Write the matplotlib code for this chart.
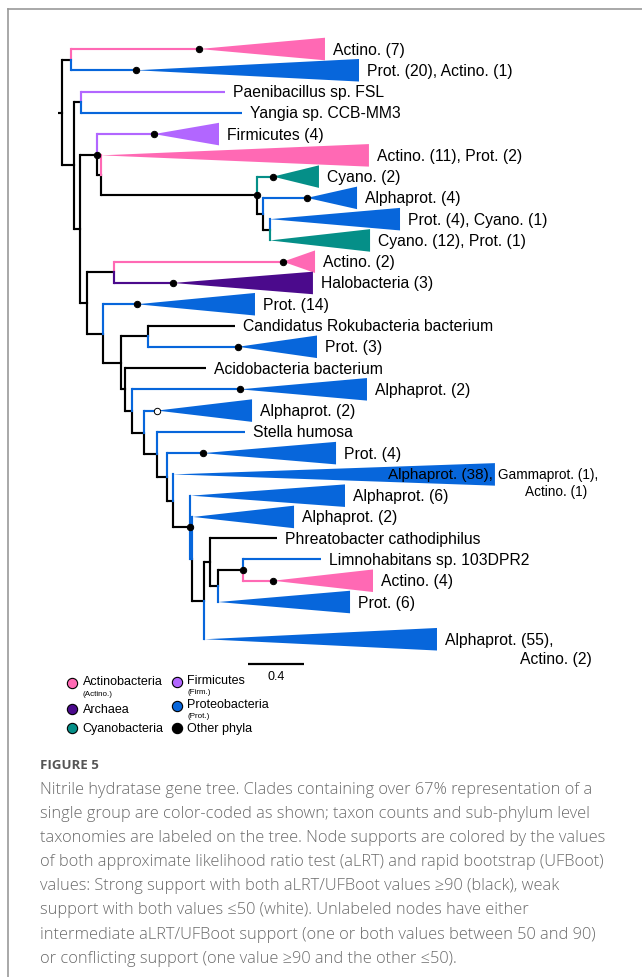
import matplotlib
matplotlib.use('Agg')
import matplotlib.pyplot as plt
from matplotlib.patches import Polygon

plt.rcParams['font.family'] = ['Liberation Sans', 'DejaVu Sans']

# phylum colours
group_names = ['actino', 'archaea', 'cyano', 'firm', 'prot', 'other']
group_colors = ['#ff69b4', '#4b0a8c', '#058f88', '#b266ff', '#0766db', '#000000']

# internal nodes: id, parent, depth (subst./site), branch group, support
node_ids = ['R', 'A', 'B', 'C', 'D', 'E', 'F', 'G', 'H', 'I', 'J', 'K', 'M', 'N',
            'O', 'P', 'Q', 'S', 'T', 'U', 'V', 'W', 'X', 'Y', 'Z', 'AA', 'AB']
node_parent = [None, 'R', 'R', 'B', 'B', 'D', 'E', 'F', 'G', 'H', 'D', 'J', 'J', 'M',
               'N', 'N', 'P', 'Q', 'S', 'T', 'U', 'V', 'W', 'X', 'Y', 'Z', 'AA']
node_x = [0.029, 0.093, 0.114, 0.164, 0.157, 0.279, 0.307, 1.421, 1.462, 1.514, 0.205,
          0.400, 0.321, 0.450, 0.643, 0.479, 0.525, 0.614, 0.707, 0.779, 0.821, 0.943,
          0.957, 1.043, 1.086, 1.143, 1.321]
node_group = ['other'] * 22 + ['prot'] + ['other'] * 4
node_support = ['', '', '', '', '', 'strong', '', 'strong', '', '', '', '', '', '',
                '', '', '', '', '', '', '', 'strong', '', '', '', '', 'strong']

# leaves (collapsed clades and single taxa), top to bottom
leaf_label = ['Actino. (7)', 'Prot. (20), Actino. (1)', 'Paenibacillus sp. FSL',
              'Yangia sp. CCB-MM3', 'Firmicutes (4)', 'Actino. (11), Prot. (2)',
              'Cyano. (2)', 'Alphaprot. (4)', 'Prot. (4), Cyano. (1)',
              'Cyano. (12), Prot. (1)', 'Actino. (2)', 'Halobacteria (3)', 'Prot. (14)',
              'Candidatus Rokubacteria bacterium', 'Prot. (3)', 'Acidobacteria bacterium',
              'Alphaprot. (2)', 'Alphaprot. (2)', 'Stella humosa', 'Prot. (4)',
              'Alphaprot. (38),', 'Alphaprot. (6)', 'Alphaprot. (2)',
              'Phreatobacter cathodiphilus', 'Limnohabitans sp. 103DPR2', 'Actino. (4)',
              'Prot. (6)', 'Alphaprot. (55),']
leaf_parent = ['A', 'A', 'C', 'C', 'E', 'F', 'G', 'H', 'I', 'I', 'K', 'K', 'M', 'O', 'O',
               'P', 'Q', 'S', 'T', 'U', 'V', 'W', 'X', 'Z', 'AB', 'AB', 'AA', 'Y']
leaf_row = [0, 1, 2, 3, 4, 5, 6, 7, 8, 9, 10, 11, 12, 13, 14, 15, 16, 17, 18, 19, 20, 21,
            22, 23, 24, 25, 26, 27.75]
leaf_stem = [1.007, 0.557, 1.193, 1.314, 0.686, 0.307, 1.536, 1.779, 1.514, 1.514, 1.607,
             0.821, 0.564, 1.264, 1.286, 1.057, 1.300, 0.707, 1.336, 1.036, 0.821, 0.950,
             0.964, 1.564, 1.879, 1.536, 1.143, 1.050]
leaf_tip = [1.907, 2.150, 1.193, 1.314, 1.150, 2.221, 1.864, 2.136, 2.443, 2.229, 1.836,
            1.821, 1.407, 1.264, 1.850, 1.057, 2.207, 1.386, 1.336, 1.986, 3.121, 2.050,
            1.686, 1.564, 1.879, 2.250, 2.086, 2.707]
leaf_group = ['actino', 'prot', 'firm', 'prot', 'firm', 'actino', 'cyano', 'prot', 'prot',
              'cyano', 'actino', 'archaea', 'prot', 'other', 'prot', 'other', 'prot', 'prot',
              'prot', 'prot', 'prot', 'prot', 'prot', 'other', 'prot', 'actino', 'prot', 'prot']
leaf_collapsed = [True, True, False, False, True, True, True, True, True, True, True, True,
                  True, False, True, False, True, True, False, True, True, True, True, False,
                  False, True, True, True]
leaf_support = ['strong', 'strong', '', '', 'strong', '', 'strong', 'strong', '', '',
                'strong', 'strong', 'strong', '', 'strong', '', 'strong', 'weak', '',
                'strong', '', '', '', '', '', 'strong', '', '']

# second-line labels
extra_text = ['Gammaprot. (1),', 'Actino. (1)', 'Actino. (2)']
extra_row = [20, 20.8, 28.65]
extra_x = [3.143, 3.336, 3.300]
extra_size = [9.8, 9.8, 11.3]

legend_labels = ['Actinobacteria', 'Archaea', 'Cyanobacteria', 'Firmicutes',
                 'Proteobacteria', 'Other phyla']
legend_abbrev = ['(Actino.)', '', '', '(Firm.)', '(Prot.)', '']
legend_group = ['actino', 'archaea', 'cyano', 'firm', 'prot', 'other']

scale_len = 0.4

caption_title = 'FIGURE 5'
caption_lines = [
    'Nitrile hydratase gene tree. Clades containing over 67% representation of a',
    'single group are color-coded as shown; taxon counts and sub-phylum level',
    'taxonomies are labeled on the tree. Node supports are colored by the values',
    'of both approximate likelihood ratio test (aLRT) and rapid bootstrap (UFBoot)',
    'values: Strong support with both aLRT/UFBoot values \u226590 (black), weak',
    'support with both values \u226450 (white). Unlabeled nodes have either',
    'intermediate aLRT/UFBoot support (one or both values between 50 and 90)',
    'or conflicting support (one value \u226590 and the other \u226450).',
]

W, H = 642, 978
color_of = dict(zip(group_names, group_colors))

fig = plt.figure(figsize=(W / 100, H / 100), dpi=100)
ax = fig.add_axes([0, 0, 1, 1])
ax.set_xlim(-58 / 140, (W - 58) / 140)
ax.set_ylim((H - 50) / 21.27, -50 / 21.27)
ax.axis('off')


def px(x, y):
    return x / W, 1 - y / H


# build tree
children = {n: [] for n in node_ids}
for n, p in zip(node_ids, node_parent):
    if p is not None:
        children[p].append(n)
for i, p in enumerate(leaf_parent):
    children[p].append(i)

nx = dict(zip(node_ids, node_x))
ngroup = dict(zip(node_ids, node_group))
ny = {}


def get_y(n):
    if isinstance(n, int):
        return leaf_row[n]
    if n not in ny:
        ys = [get_y(c) for c in children[n]]
        ny[n] = (min(ys) + max(ys)) / 2
    return ny[n]


lw = 1.55
get_y('R')
# root stub
ax.plot([0, nx['R']], [ny['R'], ny['R']], color='black', lw=lw, solid_capstyle='butt')

for n in node_ids:
    x0, y0 = nx[n], ny[n]
    for c in children[n]:
        if isinstance(c, int):
            col = color_of[leaf_group[c]]
            yc = leaf_row[c]
            xe = leaf_stem[c]
        else:
            col = color_of[ngroup[c]]
            yc = ny[c]
            xe = nx[c]
        ax.plot([x0, x0], [y0, yc], color=col, lw=lw, solid_capstyle='projecting', zorder=2)
        if xe > x0:
            ax.plot([x0, xe], [yc, yc], color=col, lw=lw, solid_capstyle='butt', zorder=2)

half = 0.53
for i in range(len(leaf_label)):
    col = color_of[leaf_group[i]]
    y = leaf_row[i]
    if leaf_collapsed[i]:
        tri = Polygon([(leaf_stem[i], y), (leaf_tip[i], y - half), (leaf_tip[i], y + half)],
                      closed=True, facecolor=col, edgecolor='none', zorder=3)
        ax.add_patch(tri)
    if leaf_label[i].startswith('Alphaprot. (38)'):
        ax.text(leaf_tip[i] - 0.015, y, leaf_label[i], ha='right', va='center',
                fontsize=11, color='black', zorder=5)
    else:
        ax.text(leaf_tip[i] + 0.06, y, leaf_label[i], ha='left', va='center',
                fontsize=11.3, color='black', zorder=5)
    if leaf_support[i]:
        fc = 'black' if leaf_support[i] == 'strong' else 'white'
        ax.plot(leaf_stem[i], y, 'o', ms=4.6, mfc=fc, mec='black', mew=0.7, zorder=6)

for n, s in zip(node_ids, node_support):
    if s:
        fc = 'black' if s == 'strong' else 'white'
        ax.plot(nx[n], ny[n], 'o', ms=4.6, mfc=fc, mec='black', mew=0.7, zorder=6)

for t, r, x, s in zip(extra_text, extra_row, extra_x, extra_size):
    ax.text(x, r, t, ha='left', va='center', fontsize=s, color='black')

# scale bar
sb_x, sb_row = 1.357, 28.91
ax.plot([sb_x, sb_x + scale_len], [sb_row, sb_row], color='black', lw=1.6,
        solid_capstyle='butt')
ax.text(sb_x + scale_len / 2, sb_row + 0.55, str(scale_len), ha='center', va='center',
        fontsize=9)

# legend
leg_pos = [(72, 684), (72, 710), (72, 729), (176.5, 683), (176.5, 707), (176.5, 729)]
for (lx, ly), lab, ab, g in zip(leg_pos, legend_labels, legend_abbrev, legend_group):
    fx, fy = px(lx, ly)
    ax.plot([fx], [fy], 'o', ms=7.4, mfc=color_of[g], mec='black', mew=0.8,
            transform=fig.transFigure, clip_on=False)
    dy = -1.5 if ab else 0
    tx, ty = px(lx + 10.5, ly + dy)
    fig.text(tx, ty, lab, ha='left', va='center', fontsize=9)
    if ab:
        tx, ty = px(lx + 11, ly + 10)
        fig.text(tx, ty, ab, ha='left', va='center', fontsize=5.8)

# frame
fig.add_artist(plt.Line2D([8 / W, 1], [1 - 10 / H, 1 - 10 / H], color='#999999', lw=1.2))
fig.add_artist(plt.Line2D([8 / W, 8 / W], [0, 1 - 10 / H], color='#999999', lw=1.2))

# caption
tx, ty = px(40, 766)
fig.text(tx, ty, caption_title, ha='left', va='center', fontsize=9.5,
         family='Open Sans', fontweight='bold', color='#555555')
for k, line in enumerate(caption_lines):
    tx, ty = px(40, 790 + 24.1 * k)
    fig.text(tx, ty, line, ha='left', va='center', fontsize=11.8,
             family=['Open Sans', 'DejaVu Sans'], fontweight='light', color='#6a6a6a')

fig.savefig('out.png', dpi=100)
